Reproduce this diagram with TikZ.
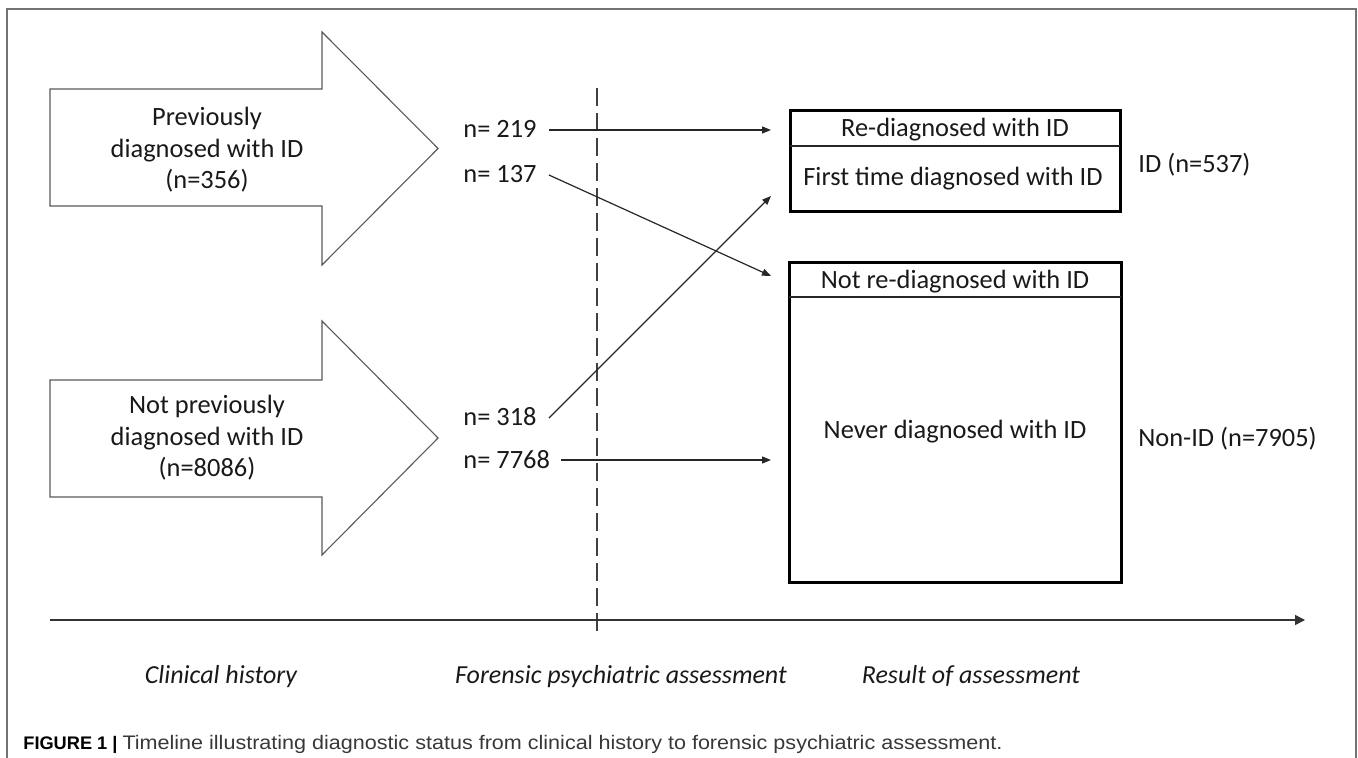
\documentclass[tikz,border=0pt]{standalone}
\usepackage{fontspec}
\setmainfont{Carlito}
\newfontfamily\capfont{Liberation Sans}
\usetikzlibrary{arrows.meta}
\begin{document}
\begin{tikzpicture}[x=0.5pt,y=-0.5pt,
  txt/.style={font=\fontsize{13.2}{16}\selectfont, inner sep=0pt, text=black!90, text height=9.5pt, text depth=1.5pt},
  blocktxt/.style={font=\fontsize{13.2}{15.8}\selectfont, inner sep=0pt, text=black!90, align=center},
  itxt/.style={font=\fontsize{13}{15.5}\selectfont\itshape, inner sep=0pt, text=black!90, anchor=base},
  bigarrow/.style={draw=black!65, line width=0.55pt, fill=white},
  result/.style={draw=black, line width=1.5pt, inner sep=0pt},
  divider/.style={draw=black!85, line width=0.7pt},
  conn/.style={draw=black!85, line width=0.6pt, -{Triangle[length=4.5pt,width=3.5pt]}},
  frame/.style={draw=black!55, line width=0.8pt}
]
\useasboundingbox (0,0) rectangle (1358,758);

% outer frame
\draw[frame] (7,758) -- (7,9) -- (1356,9) -- (1356,758);

% big arrows
\draw[bigarrow] (50,89) -- (322,89) -- (322,32) -- (438,148.5) -- (322,265) -- (322,206) -- (50,206) -- cycle;
\draw[bigarrow] (50,380) -- (322,380) -- (322,321) -- (438,438) -- (322,555) -- (322,497) -- (50,497) -- cycle;
\node[blocktxt] (prev) at (207,150) {Previously\\diagnosed with ID\\(n=356)};
\node[blocktxt] (notprev) at (207,438) {Not previously\\diagnosed with ID\\(n=8086)};

% dashed separator
\draw[draw=black!75, line width=0.7pt, dash pattern=on 9pt off 3.5pt] (597,88) -- (597,632);

% timeline
\coordinate (tl0) at (50,620);
\coordinate (tl1) at (1305,620);
\draw[draw=black!80, line width=0.7pt, -{Triangle[length=5pt,width=5pt]}] (tl0) -- (tl1);

% result boxes
\node[result, minimum width=165pt, minimum height=50.5pt] (box1) at (955,161.5) {};
\draw[divider] (790,146) -- (1120,146);
\node[result, minimum width=166pt, minimum height=159.5pt] (box2) at (955,422.5) {};
\draw[divider] (789,297) -- (1121,297);

\node[txt] (rediag) at (955,129) {Re-diagnosed with ID};
\node[txt] (first) at (953,178) {First time diagnosed with ID};
\node[txt] (notre) at (955,281) {Not re-diagnosed with ID};
\node[txt] (never) at (955,430) {Never diagnosed with ID};
\node[txt, anchor=west] (idlab) at (1138,165) {ID (n=537)};
\node[txt, anchor=west] (nonid) at (1138,438) {Non-ID (n=7905)};

% counts
\node[txt, anchor=west] (n219) at (463,130) {n= 219};
\node[txt, anchor=west] (n137) at (463,175) {n= 137};
\node[txt, anchor=west] (n318) at (463,418) {n= 318};
\node[txt, anchor=west] (n7768) at (463,460) {n= 7768};

\coordinate (e1) at (771,130);
\coordinate (e2) at (771,276);
\coordinate (e3) at (771,196);
\coordinate (e4) at (771,460);
\draw[conn] ([xshift=6pt]n219.east) -- (e1);
\draw[conn] ([xshift=6pt]n137.east) -- (e2);
\draw[conn] ([xshift=6pt]n318.east) -- (e3);
\draw[conn] ([xshift=5.5pt]n7768.east) -- (e4);

% phase labels
\node[itxt] (clin) at (221,683) {Clinical history};
\node[itxt] (foren) at (621,683) {Forensic psychiatric assessment};
\node[itxt] (resu) at (971,683) {Result of assessment};

% caption
\node[anchor=base west, inner sep=0pt, font=\capfont\fontsize{9.1}{10}\selectfont] (cap) at (23,749)
  {\textbf{FIGURE 1 \textbar}\ \textcolor{black!78}{\scalebox{1.1}[1]{\fontsize{9.8}{11}\selectfont Timeline illustrating diagnostic status from clinical history to forensic psychiatric assessment.}}};
\end{tikzpicture}
\end{document}
